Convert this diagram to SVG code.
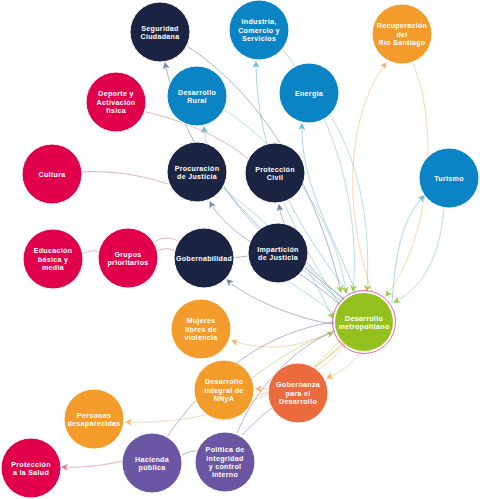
<svg xmlns="http://www.w3.org/2000/svg" width="480" height="499" viewBox="0 0 480 499">
<style>
.n text{font-family:"Liberation Sans",Arial,sans-serif;font-weight:700;font-size:7.1px;fill:#fff;text-anchor:middle;letter-spacing:0.3px}
.n circle{stroke:#fff;stroke-width:1}
.navy{fill:#1b2442}.blue{fill:#0b84c5}.pink{fill:#e1004c}.orange{fill:#f39c2b}.green{fill:#95c11f}.red{fill:#eb6a3e}.purple{fill:#6a56a2}
#edges path{fill:none;stroke-width:0.9;stroke-opacity:0.75}
.cg{stroke:#8493b0}.cb{stroke:#80c3dd}.ct{stroke:#93d2c6}.cgr{stroke:#b2d56c}.co{stroke:#f6c489}.cp{stroke:#d88aa2}.cu{stroke:#978ac3}
</style>
<defs>
<marker id="ag" markerWidth="7" markerHeight="7" refX="6" refY="3.5" orient="auto" markerUnits="userSpaceOnUse"><path d="M0,0 L7,3.5 L0,7 L2,3.5z" fill="#7886a6"/></marker>
<marker id="ab" markerWidth="7" markerHeight="7" refX="6" refY="3.5" orient="auto" markerUnits="userSpaceOnUse"><path d="M0,0 L7,3.5 L0,7 L2,3.5z" fill="#6bb8d8"/></marker>
<marker id="ao" markerWidth="7" markerHeight="7" refX="6" refY="3.5" orient="auto" markerUnits="userSpaceOnUse"><path d="M0,0 L7,3.5 L0,7 L2,3.5z" fill="#f5b56e"/></marker>
<marker id="agr" markerWidth="7" markerHeight="7" refX="6" refY="3.5" orient="auto" markerUnits="userSpaceOnUse"><path d="M0,0 L7,3.5 L0,7 L2,3.5z" fill="#a3cc45"/></marker>
<marker id="ap" markerWidth="7" markerHeight="7" refX="6" refY="3.5" orient="auto" markerUnits="userSpaceOnUse"><path d="M0,0 L7,3.5 L0,7 L2,3.5z" fill="#e5739a"/></marker>
</defs>
<rect width="480" height="499" fill="#fff"/>
<g id="edges">
<path class="cg" d="M346,300 C280,250 190,180 165,63" marker-end="url(#ag)"/>
<path class="cb" d="M350,295 C300,230 256,160 256,62" marker-end="url(#ab)"/>
<path class="cb" d="M342,302 C280,250 210,200 204,127" marker-end="url(#ab)"/>
<path class="cb" d="M356,292 C330,230 300,180 302,124" marker-end="url(#ab)"/>
<path class="co" d="M372,292 C340,200 350,110 386,63" marker-end="url(#ao)"/>
<path class="cb" d="M392,303 C395,260 400,220 424,196" marker-end="url(#ab)"/>
<path class="cg" d="M340,305 C290,260 230,240 210,202" marker-end="url(#ag)"/>
<path class="cg" d="M344,300 C310,270 285,240 279,205" marker-end="url(#ag)"/>
<path class="cg" d="M334,324 C300,320 250,300 227,280" marker-end="url(#ag)"/>
<path class="co" d="M334,330 C300,348 270,352 232,341" marker-end="url(#ao)"/>
<path class="co" d="M345,345 C320,375 290,388 256,389" marker-end="url(#ao)"/>
<path class="co" d="M360,352 C352,364 342,372 327,378" marker-end="url(#ao)"/>
<path class="co" d="M340,340 C290,400 200,425 126,422" marker-end="url(#ao)"/>
<path class="cg" d="M187,46 C270,100 320,200 341,292" marker-end="url(#agr)"/>
<path class="ct" d="M283,50 C340,120 360,220 353,291" marker-end="url(#agr)"/>
<path class="ct" d="M330,115 C365,170 370,240 367,291" marker-end="url(#agr)"/>
<path class="ct" d="M444,208 C440,260 420,290 394,302" marker-end="url(#agr)"/>
<path class="co" d="M413,63 C440,130 430,240 386,296" marker-end="url(#agr)"/>
<path class="ct" d="M225,110 C300,160 340,240 346,293" marker-end="url(#agr)"/>
<path class="ct" d="M305,265 C320,290 328,310 333,318" marker-end="url(#agr)"/>
<path class="cgr" d="M315,368 C330,355 340,346 346,340" marker-end="url(#agr)"/>
<path class="cgr" d="M252,378 C290,350 310,340 333,333" marker-end="url(#agr)"/>
<path class="ct" d="M222,188 C280,230 320,280 338,302"/>
<path class="ct" d="M262,150 C285,210 310,260 340,305"/>
<path class="ct" d="M248,262 C280,275 305,290 336,315"/>
<path class="cgr" d="M260,395 C290,385 320,365 344,344"/>
<path class="cu" d="M167,437 C220,360 280,330 334,322"/>
<path class="cu" d="M237,433 C255,390 290,350 336,330"/>
<path class="cp" d="M82,172 C120,170 150,178 168,184"/>
<path class="cp" d="M146,112 C190,122 230,142 249,160"/>
<path class="cp" d="M83,254 C90,250 94,250 99,252"/>
<path class="cp" d="M157,251 C164,248 170,248 175,251"/>
<path class="cp" d="M154,242 C164,236 174,237 180,243"/>
<path class="cg" d="M233,258 L248,256"/>
<path class="cu" d="M242,435 C255,422 262,415 272,408"/>
<path class="cu" d="M182,455 C188,452 192,451 196,451"/>
<path class="cp" d="M122,461 C100,466 82,468 62,467" marker-end="url(#ap)"/>
</g>
<g id="seguridad" class="n"><circle class="navy" cx="160" cy="32" r="30"/><text x="160" y="30.5">Seguridad</text><text x="160" y="38.8">Ciudadana</text></g>
<g id="industria" class="n"><circle class="blue" cx="259" cy="30" r="30"/><text x="259" y="24.3">Industria,</text><text x="259" y="32.6">Comercio y</text><text x="259" y="40.9">Servicios</text></g>
<g id="rural" class="n"><circle class="blue" cx="197" cy="96" r="30"/><text x="197" y="94.5">Desarrollo</text><text x="197" y="102.8">Rural</text></g>
<g id="energia" class="n"><circle class="blue" cx="309" cy="93" r="30"/><text x="309" y="95.6">Energía</text></g>
<g id="recuperacion" class="n"><circle class="orange" cx="402" cy="34" r="30"/><text x="402" y="28.3">Recuperación</text><text x="402" y="36.6">del</text><text x="402" y="44.9">Río Santiago</text></g>
<g id="deporte" class="n"><circle class="pink" cx="116" cy="102" r="30"/><text x="116" y="96.3">Deporte y</text><text x="116" y="104.6">Activación</text><text x="116" y="112.9">física</text></g>
<g id="cultura" class="n"><circle class="pink" cx="52" cy="174" r="30"/><text x="52" y="176.6">Cultura</text></g>
<g id="procuracion" class="n"><circle class="navy" cx="197" cy="172" r="30"/><text x="197" y="170.5">Procuración</text><text x="197" y="178.8">de Justicia</text></g>
<g id="proteccion-civil" class="n"><circle class="navy" cx="275" cy="173" r="30"/><text x="275" y="171.5">Protección</text><text x="275" y="179.8">Civil</text></g>
<g id="turismo" class="n"><circle class="blue" cx="449" cy="178" r="30"/><text x="449" y="180.6">Turismo</text></g>
<g id="educacion" class="n"><circle class="pink" cx="53" cy="259" r="30"/><text x="53" y="253.3">Educación</text><text x="53" y="261.6">básica y</text><text x="53" y="269.9">media</text></g>
<g id="grupos" class="n"><circle class="pink" cx="128" cy="258" r="30"/><text x="128" y="256.5">Grupos</text><text x="128" y="264.8">prioritarios</text></g>
<g id="gobernabilidad" class="n"><circle class="navy" cx="204" cy="258" r="30"/><text x="204" y="260.6">Gobernabilidad</text></g>
<g id="imparticion" class="n"><circle class="navy" cx="278" cy="253" r="30"/><text x="278" y="251.5">Impartición</text><text x="278" y="259.8">de Justicia</text></g>
<g id="metropolitano" class="n"><circle class="green" cx="364" cy="322" r="29.5"/><circle cx="364" cy="322" r="31.5" fill="none" style="stroke:#e8559a;stroke-width:0.9"/><text x="364" y="320.5">Desarrollo</text><text x="364" y="328.8">metropolitano</text></g>
<g id="mujeres" class="n"><circle class="orange" cx="201" cy="329" r="30"/><text x="201" y="323.3">Mujeres</text><text x="201" y="331.6">libres de</text><text x="201" y="339.9">violencia</text></g>
<g id="nnya" class="n"><circle class="orange" cx="224" cy="390" r="30"/><text x="224" y="384.3">Desarrollo</text><text x="224" y="392.6">integral de</text><text x="224" y="400.9">NNyA</text></g>
<g id="gobernanza" class="n"><circle class="red" cx="298" cy="393" r="30"/><text x="298" y="387.3">Gobernanza</text><text x="298" y="395.6">para el</text><text x="298" y="403.9">Desarrollo</text></g>
<g id="personas" class="n"><circle class="orange" cx="94" cy="419" r="30"/><text x="94" y="417.5">Personas</text><text x="94" y="425.8">desaparecidas</text></g>
<g id="salud" class="n"><circle class="pink" cx="31" cy="468" r="30"/><text x="31" y="466.5">Protección</text><text x="31" y="474.8">a la Salud</text></g>
<g id="hacienda" class="n"><circle class="purple" cx="152" cy="463" r="30"/><text x="152" y="461.5">Hacienda</text><text x="152" y="469.8">pública</text></g>
<g id="politica" class="n"><circle class="purple" cx="225" cy="462" r="30"/><text x="225" y="452.2">Política de</text><text x="225" y="460.5">integridad</text><text x="225" y="468.8">y control</text><text x="225" y="477.1">interno</text></g>
</svg>
